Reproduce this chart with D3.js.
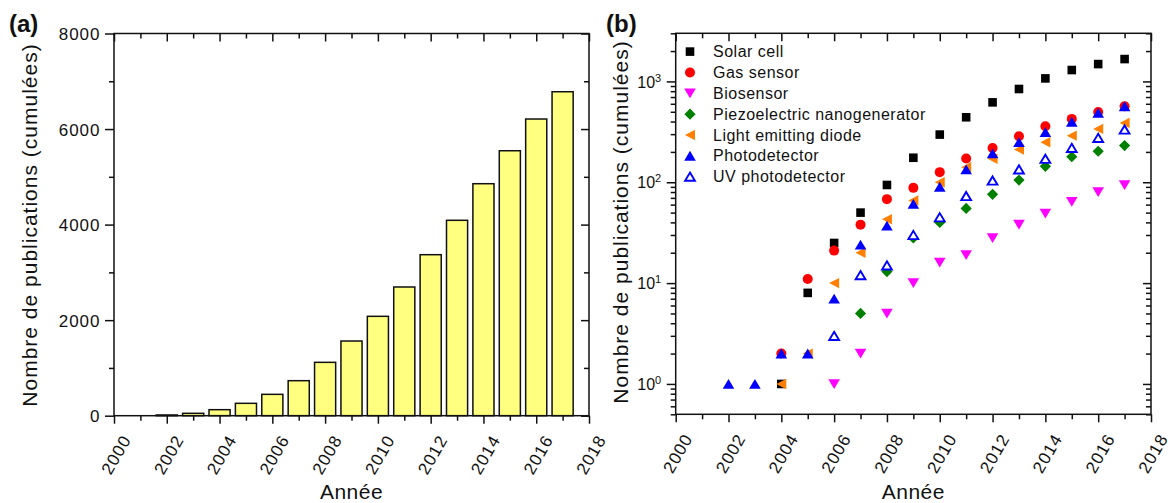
<!DOCTYPE html>
<html><head><meta charset="utf-8">
<script src="https://cdn.jsdelivr.net/npm/d3@7"></script>
<style>
body{margin:0;background:#fff}
svg text{font-family:"Liberation Sans",Arial,Helvetica,sans-serif;fill:#111}
</style>
</head><body>
<svg id="c" width="1168" height="503"></svg>
<script>
// ---------- DATA ----------
const barYears  = [2002,2003,2004,2005,2006,2007,2008,2009,2010,2011,2012,2013,2014,2015,2016,2017];
const barValues = [15,50,126,259,447,733,1117,1563,2080,2694,3370,4090,4856,5546,6210,6781];

const xTickYears = [2000,2002,2004,2006,2008,2010,2012,2014,2016,2018];
const yTicksA = [0,2000,4000,6000,8000];
const yMajorB = [1,10,100,1000];

const seriesNames  = ["Solar cell","Gas sensor","Biosensor","Piezoelectric nanogenerator","Light emitting diode","Photodetector","UV photodetector"];
const seriesColors = ["#000000","#ff0000","#ff00ff","#008000","#ff8000","#0000ff","#0000ff"];
const seriesShapes = ["square","circle","down","diamond","left","up","upOpen"];

const solarYears = [2004,2005,2006,2007,2008,2009,2010,2011,2012,2013,2014,2015,2016,2017];
const solarCell  = [1,8,25,50,94,175,297,441,620,841,1071,1297,1486,1666];
const gasYears   = [2004,2005,2006,2007,2008,2009,2010,2011,2012,2013,2014,2015,2016,2017];
const gasSensor  = [2,11,21,38,68,88,126,172,219,286,359,425,498,566];
const bioYears   = [2006,2007,2008,2009,2010,2011,2012,2013,2014,2015,2016,2017];
const bioSensor  = [1,2,5,10,16,19,28,38,49,64,80,94];
const piezoYears = [2007,2008,2009,2010,2011,2012,2013,2014,2015,2016,2017];
const piezo      = [5,13,28,40,55,76,105,144,179,203,231];
const ledYears   = [2004,2005,2006,2007,2008,2009,2010,2011,2012,2013,2014,2015,2016,2017];
const led        = [1,2,10,20,43,66,100,141,171,211,249,290,338,388];
const photoYears = [2002,2003,2004,2005,2006,2007,2008,2009,2010,2011,2012,2013,2014,2015,2016,2017];
const photo      = [1,1,2,2,7,24,37,61,90,134,193,249,313,397,487,566];
const uvYears    = [2006,2007,2008,2009,2010,2011,2012,2013,2014,2015,2016,2017];
const uvPhoto    = [3,12,15,30,45,73,104,134,171,219,275,333];

const seriesYears  = [solarYears,gasYears,bioYears,piezoYears,ledYears,photoYears,uvYears];
const seriesValues = [solarCell,gasSensor,bioSensor,piezo,led,photo,uvPhoto];

// ---------- LAYOUT ----------
const svg = d3.select("#c");
const A = {l:114, r:589, t:33.5, b:415.7};
const B = {l:675.7, r:1151, t:33.3, b:414.3};
const TICK_FS = 17, TICK_LS = 1;
const LW = 1.5;

function styleAxis(g){
  g.attr("font-size",null).attr("font-family",null);
  g.select(".domain").remove();
  g.selectAll("line").attr("stroke","#111").attr("stroke-width",LW);
}
function xAxes(g, x, P){
  const minorX = d3.range(2001,2018,2);
  const b1 = g.append("g").attr("transform",`translate(0,${P.b})`)
    .call(d3.axisBottom(x).tickValues(xTickYears).tickSize(8).tickFormat(d3.format("d")));
  styleAxis(b1);
  b1.selectAll("text").attr("y",null).attr("dy","0.35em").attr("text-anchor","middle")
    .attr("font-size",TICK_FS).attr("letter-spacing",TICK_LS)
    .attr("transform","translate(1.5,39) rotate(-60)");
  const b2 = g.append("g").attr("transform",`translate(0,${P.b})`)
    .call(d3.axisBottom(x).tickValues(minorX).tickSize(5).tickFormat(""));
  styleAxis(b2);
  const t1 = g.append("g").attr("transform",`translate(0,${P.t})`)
    .call(d3.axisTop(x).tickValues(xTickYears).tickSize(-8).tickFormat(""));
  styleAxis(t1);
  const t2 = g.append("g").attr("transform",`translate(0,${P.t})`)
    .call(d3.axisTop(x).tickValues(minorX).tickSize(-5).tickFormat(""));
  styleAxis(t2);
}

// ---------- PANEL A ----------
const xA = d3.scaleLinear([2000,2018],[A.l,A.r]);
const yA = d3.scaleLinear([0,8000],[A.b,A.t]);
const gA = svg.append("g");
const bw = (xA(1)-xA(0))*0.8;
gA.selectAll("rect.bar").data(barYears).join("rect").attr("class","bar")
  .attr("x",d=>xA(d)-bw/2).attr("width",bw)
  .attr("y",(d,i)=>yA(barValues[i])).attr("height",(d,i)=>yA(0)-yA(barValues[i]))
  .attr("fill","#ffff80").attr("stroke","#111").attr("stroke-width",LW);

xAxes(gA, xA, A);
const minorA = [1000,3000,5000,7000];
const lA1 = gA.append("g").attr("transform",`translate(${A.l},0)`)
  .call(d3.axisLeft(yA).tickValues(yTicksA).tickSize(9).tickPadding(5).tickFormat(d3.format("d")));
styleAxis(lA1);
lA1.selectAll("text").attr("font-size",TICK_FS).attr("letter-spacing",TICK_LS).attr("dy","0.35em").attr("x",-13.5);
const lA2 = gA.append("g").attr("transform",`translate(${A.l},0)`)
  .call(d3.axisLeft(yA).tickValues(minorA).tickSize(5).tickFormat(""));
styleAxis(lA2);
const rA1 = gA.append("g").attr("transform",`translate(${A.r},0)`)
  .call(d3.axisRight(yA).tickValues(yTicksA).tickSize(-8).tickFormat(""));
styleAxis(rA1);
const rA2 = gA.append("g").attr("transform",`translate(${A.r},0)`)
  .call(d3.axisRight(yA).tickValues(minorA).tickSize(-5).tickFormat(""));
styleAxis(rA2);
gA.append("rect").attr("x",A.l).attr("y",A.t).attr("width",A.r-A.l).attr("height",A.b-A.t)
  .attr("fill","none").attr("stroke","#111").attr("stroke-width",LW);

gA.append("text").attr("transform",`translate(37.3,225) rotate(-90)`).attr("text-anchor","middle")
  .attr("font-size",21).attr("letter-spacing",1).text("Nombre de publications (cumulées)");
gA.append("text").attr("x",(A.l+A.r)/2).attr("y",499).attr("text-anchor","middle")
  .attr("font-size",21).attr("letter-spacing",0.5).text("Année");
gA.append("text").attr("x",9).attr("y",32).attr("font-size",24).attr("font-weight","bold").text("(a)");

// ---------- PANEL B ----------
const xB = d3.scaleLinear([2000,2018],[B.l,B.r]);
const yB = d3.scaleLog([0.5,3000],[B.b,B.t]);
const gB = svg.append("g");
xAxes(gB, xB, B);
const minorB = yB.ticks().filter(v=>!yMajorB.includes(v));
const lB1 = gB.append("g").attr("transform",`translate(${B.l},0)`)
  .call(d3.axisLeft(yB).tickValues(yMajorB).tickSize(9).tickFormat(""));
styleAxis(lB1);
lB1.selectAll(".tick").append("text").attr("x",-14.5).attr("dy","0.35em").attr("text-anchor","end")
  .each(function(d){
    const t = d3.select(this);
    t.append("tspan").attr("font-size",16).text("10");
    t.append("tspan").attr("font-size",11).attr("dy",-6).text(Math.round(Math.log10(d)));
  });
const lB2 = gB.append("g").attr("transform",`translate(${B.l},0)`)
  .call(d3.axisLeft(yB).tickValues(minorB).tickSize(5).tickFormat(""));
styleAxis(lB2);
const rB1 = gB.append("g").attr("transform",`translate(${B.r},0)`)
  .call(d3.axisRight(yB).tickValues(yMajorB).tickSize(-8).tickFormat(""));
styleAxis(rB1);
const rB2 = gB.append("g").attr("transform",`translate(${B.r},0)`)
  .call(d3.axisRight(yB).tickValues(minorB).tickSize(-5).tickFormat(""));
styleAxis(rB2);
gB.append("rect").attr("x",B.l).attr("y",B.t).attr("width",B.r-B.l).attr("height",B.b-B.t)
  .attr("fill","none").attr("stroke","#111").attr("stroke-width",LW);

function markerPath(shape){
  switch(shape){
    case "square": return "M-4.3,-4.3H4.3V4.3H-4.3Z";
    case "circle": return d3.symbol(d3.symbolCircle, Math.PI*25)();
    case "down": return "M-5.8,-4.8L5.8,-4.8L0,5Z";
    case "diamond": return "M0,-5.6L5.6,0L0,5.6L-5.6,0Z";
    case "left": return "M-5,0L5,-5.2L5,5.2Z";
    case "up": return "M0,-5L5.8,4.8L-5.8,4.8Z";
    case "upOpen": return "M0,-4.1L4.9,4.1L-4.9,4.1Z";
  }
}
function styleMarker(sel, i){
  const open = seriesShapes[i]==="upOpen";
  sel.attr("d",markerPath(seriesShapes[i]))
    .attr("fill",open?"#fff":seriesColors[i])
    .attr("stroke",open?seriesColors[i]:"none")
    .attr("stroke-width",open?1.9:0);
}
seriesNames.forEach((name,i)=>{
  const pts = seriesYears[i].map((yr,j)=>({yr, v:seriesValues[i][j]}));
  gB.append("g").selectAll("path").data(pts).join("path")
    .attr("transform",d=>`translate(${xB(d.yr)},${yB(d.v)})`)
    .call(s=>styleMarker(s,i));
});

// legend
const leg = gB.append("g");
seriesNames.forEach((name,i)=>{
  const yy = 51.6 + i*20.85;
  leg.append("path").attr("transform",`translate(690,${yy})`).call(s=>styleMarker(s,i));
  leg.append("text").attr("x",713).attr("y",yy).attr("dy","0.35em").attr("font-size",16)
    .attr("letter-spacing",0.5).text(name);
});

gB.append("text").attr("transform",`translate(628.3,222) rotate(-90)`).attr("text-anchor","middle")
  .attr("font-size",21).attr("letter-spacing",1).text("Nombre de publications (cumulées)");
gB.append("text").attr("x",(B.l+B.r)/2).attr("y",499).attr("text-anchor","middle")
  .attr("font-size",21).attr("letter-spacing",0.5).text("Année");
gB.append("text").attr("x",606).attr("y",32).attr("font-size",24).attr("font-weight","bold").text("(b)");
</script>
</body></html>
